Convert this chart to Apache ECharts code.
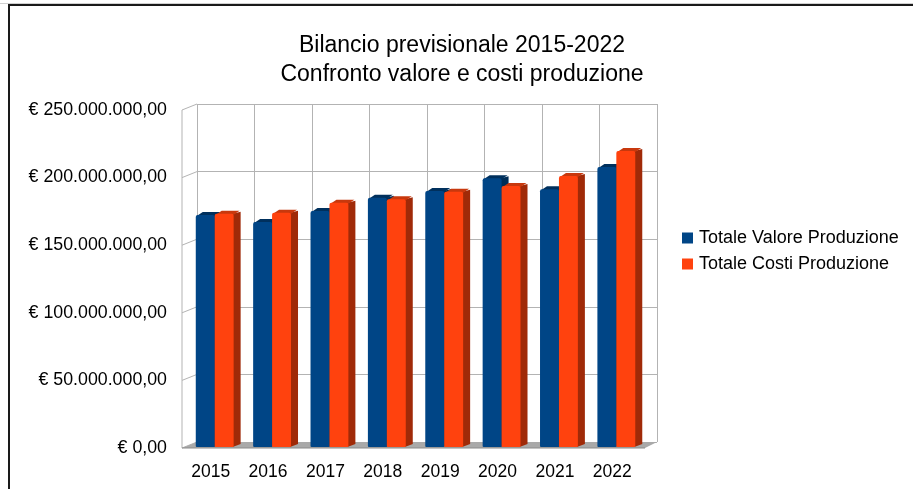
<!DOCTYPE html>
<html>
<head>
<meta charset="utf-8">
<script src="https://cdn.jsdelivr.net/npm/echarts@6/dist/echarts.min.js"></script>
<style>
html,body{margin:0;padding:0;background:#fff;}
#chart{width:913px;height:489px;}
</style>
</head>
<body>
<div id="chart"></div>
<script>
// ---- data ----
var categories = ['2015','2016','2017','2018','2019','2020','2021','2022'];
var valoreProduzione = [172300000,167200000,175300000,185100000,190100000,199500000,191300000,207800000];
var costiProduzione  = [173300000,174000000,181400000,183900000,189600000,193800000,201200000,219700000];
var seriesNames = ['Totale Valore Produzione','Totale Costi Produzione'];
var yTicks = [0,50000000,100000000,150000000,200000000,250000000];

// ---- layout ----
var W = 913, H = 489;
var F = {left:182, right:641, top:110, bottom:448};   // front plane
var D = {dx:15, dy:-6};                              // depth of the box
var B = {left:F.left+D.dx, right:F.right+D.dx+1, top:F.top+D.dy, bottom:F.bottom+D.dy};
var FONT = 'Liberation Sans, Arial, sans-serif';

function fmtEuro(v){
  var s = Math.round(v).toString().replace(/\B(?=(\d{3})+(?!\d))/g,'.');
  return '\u20ac ' + s + ',00';
}

function barRenderer(fromFrac, toFrac, colors){
  return function(params, api){
    var i = api.value(0), v = api.value(1);
    var band = api.size([1,0])[0];
    var top = api.coord([i, v]);
    var base = api.coord([i, 0]);
    var x0 = top[0] + band*fromFrac, x1 = top[0] + band*toFrac;
    var yT = top[1], yB = base[1] - 1;
    var dx = 7, dy = -3;
    return {type:'group', children:[
      {type:'polygon', shape:{points:[[x1-1,yB],[x1+dx,yB+dy],[x1+dx,yT+dy+1],[x1-1,yT]]}, style:{fill:colors.side}},
      {type:'polygon', shape:{points:[[x0+1,yT+1],[x0+dx,yT+dy],[x1+dx-1,yT+dy],[x1,yT+1]]}, style:{fill:colors.top}},
      {type:'rect', shape:{x:x0, y:yT, width:x1-x0, height:yB-yT, r:[2,2,1,1]}, style:{fill:colors.front}}
    ]};
  };
}

var blue = {front:'#004586', top:'#00305d', side:'#002d57'};
var orange = {front:'#ff420e', top:'#c8380d', side:'#a02a08'};

// ---- decorations (walls, floor, frame) ----
var graphics = [];
graphics.push({type:'line', shape:{x1:0,y1:3.5,x2:W,y2:3.5}, style:{stroke:'#d0d0d0',lineWidth:1}, z:0});
graphics.push({type:'rect', shape:{x:9,y:5,width:W+20,height:H+20}, style:{fill:'none',stroke:'#1a1a1a',lineWidth:2}, z:0});
var fScale = (F.bottom - F.top)/250000000;
yTicks.forEach(function(t){
  var yf = F.bottom - t*fScale;
  graphics.push({type:'line', shape:{x1:F.left,y1:yf,x2:B.left,y2:yf+D.dy}, style:{stroke:'#b3b3b3',lineWidth:1}, z:1});
});
graphics.push({type:'line', shape:{x1:F.left,y1:F.top,x2:F.left,y2:F.bottom}, style:{stroke:'#b3b3b3',lineWidth:1}, z:1});
graphics.push({type:'polygon', shape:{points:[[F.left,F.bottom],[B.left,B.bottom],[B.right,B.bottom],[F.right+4,F.bottom]]}, style:{fill:'#a9a9a9'}, z:1});
graphics.push({type:'line', shape:{x1:F.left,y1:F.bottom,x2:F.right+4,y2:F.bottom}, style:{stroke:'#8a8a8a',lineWidth:1}, z:1});

var option = {
  backgroundColor:'#ffffff',
  animation:false,
  textStyle:{fontFamily:FONT},
  title:{
    text:'Bilancio previsionale 2015-2022\nConfronto valore e costi produzione',
    left:457, top:26, textAlign:'center',
    textStyle:{fontFamily:FONT, fontSize:23, fontWeight:'normal', color:'#000', lineHeight:29}
  },
  legend:{
    orient:'vertical', left:677, top:224,
    itemWidth:11, itemHeight:11, itemGap:8, icon:'rect',
    textStyle:{fontFamily:FONT, fontSize:18, color:'#000', padding:[0,0,0,1]},
    data:seriesNames
  },
  grid:[
    {left:F.left, top:F.top, width:F.right-F.left, height:F.bottom-F.top},
    {left:B.left, top:B.top, width:B.right-B.left, height:B.bottom-B.top}
  ],
  xAxis:[
    {type:'category', gridIndex:0, data:categories, boundaryGap:true,
     axisLine:{show:false}, axisTick:{show:false}, splitLine:{show:false},
     axisLabel:{fontFamily:FONT, fontSize:17.5, color:'#000', margin:15}},
    {type:'category', gridIndex:1, data:categories, boundaryGap:true,
     axisLine:{show:false}, axisTick:{show:false}, axisLabel:{show:false},
     splitLine:{show:true, interval:0, lineStyle:{color:'#b3b3b3', width:1}}}
  ],
  yAxis:[
    {type:'value', gridIndex:0, min:0, max:250000000, interval:50000000,
     axisLine:{show:false}, axisTick:{show:false}, splitLine:{show:false},
     axisLabel:{fontFamily:FONT, fontSize:17.8, color:'#000', margin:15, formatter:fmtEuro}},
    {type:'value', gridIndex:1, min:0, max:250000000, interval:50000000,
     axisLine:{show:false}, axisTick:{show:false}, axisLabel:{show:false},
     splitLine:{show:true, lineStyle:{color:'#b3b3b3', width:1}}}
  ],
  graphic:graphics,
  series:[
    {name:seriesNames[0], type:'custom', xAxisIndex:0, yAxisIndex:0, z:5,
     itemStyle:{color:blue.front},
     renderItem:barRenderer(-0.26, 0.07, blue),
     encode:{x:0,y:1},
     data:valoreProduzione.map(function(v,i){return [i,v];})},
    {name:seriesNames[1], type:'custom', xAxisIndex:0, yAxisIndex:0, z:6,
     itemStyle:{color:orange.front},
     renderItem:barRenderer(0.07, 0.40, orange),
     encode:{x:0,y:1},
     data:costiProduzione.map(function(v,i){return [i,v];})}
  ]
};

var chart = echarts.init(document.getElementById('chart'), null, {renderer:'canvas'});
chart.setOption(option);
</script>
</body>
</html>
